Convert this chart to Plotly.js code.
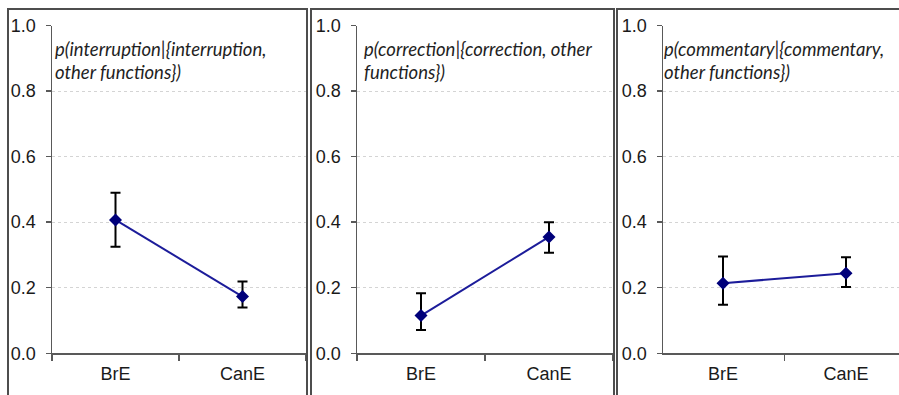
<!DOCTYPE html>
<html>
<head>
<meta charset="utf-8">
<script src="https://cdn.plot.ly/plotly-3.0.1.min.js"></script>
<style>html,body{margin:0;padding:0;background:#fff;}#chart{width:899px;height:395px;}</style>
</head>
<body>
<div id="chart"></div>
<script>
// ---- data ----
var categories = ["BrE", "CanE"];

var interruptionMean  = [0.407, 0.173];
var interruptionUpper = [0.490, 0.219];
var interruptionLower = [0.325, 0.140];

var correctionMean  = [0.115, 0.355];
var correctionUpper = [0.183, 0.400];
var correctionLower = [0.071, 0.307];

var commentaryMean  = [0.214, 0.244];
var commentaryUpper = [0.295, 0.293];
var commentaryLower = [0.148, 0.202];

var yTickVals = [0, 0.2, 0.4, 0.6, 0.8, 1.0];
var yTickText = ["0.0", "0.2", "0.4", "0.6", "0.8", "1.0"];

var panelTitles = [
  ["p(interruption|{interruption,", "other functions})"],
  ["p(correction|{correction, other", "functions})"],
  ["p(commentary|{commentary,", "other functions})"]
];

// ---- helpers ----
var W = 899, H = 395;
function px(x) { return x / W; }
function py(y) { return (H - y) / H; }

function diff(a, b) { return a.map(function (v, i) { return v - b[i]; }); }

function makeTrace(mean, upper, lower, n) {
  return {
    type: "scatter",
    mode: "lines+markers",
    x: categories,
    y: mean,
    xaxis: "x" + (n === 1 ? "" : n),
    yaxis: "y" + (n === 1 ? "" : n),
    line: { color: "#1c1c9a", width: 2 },
    marker: { symbol: "diamond", size: 10, color: "#00007a" },
    error_y: {
      type: "data",
      symmetric: false,
      array: diff(upper, mean),
      arrayminus: diff(mean, lower),
      color: "#000000",
      thickness: 2,
      width: 5
    },
    showlegend: false,
    hoverinfo: "skip"
  };
}

var data = [
  makeTrace(interruptionMean, interruptionUpper, interruptionLower, 1),
  makeTrace(correctionMean, correctionUpper, correctionLower, 2),
  makeTrace(commentaryMean, commentaryUpper, commentaryLower, 3)
];

var tickFont = { family: "Liberation Sans, Arial, sans-serif", size: 18, color: "#1a1a1a" };
var yDomain = [py(353.3), py(25.5)];

function xAxis(domain, range, anchor) {
  return {
    domain: domain,
    anchor: anchor,
    type: "category",
    range: range,
    tickson: "boundaries",
    ticks: "outside",
    ticklen: 6,
    tickwidth: 1.5,
    tickcolor: "#595959",
    showline: true,
    linecolor: "#595959",
    linewidth: 1.5,
    showgrid: false,
    zeroline: false,
    tickfont: tickFont,
    ticklabelstandoff: 4,
    fixedrange: true
  };
}
function yAxis(anchor) {
  return {
    domain: yDomain,
    anchor: anchor,
    range: [0, 1],
    tickvals: yTickVals,
    ticktext: yTickText,
    ticks: "outside",
    ticklen: 5,
    tickwidth: 1.5,
    tickcolor: "#595959",
    showline: true,
    linecolor: "#595959",
    linewidth: 1.5,
    showgrid: true,
    gridcolor: "#d4d4d4",
    griddash: "dot",
    gridwidth: 1,
    zeroline: false,
    tickfont: tickFont,
    ticklabelstandoff: 6,
    fixedrange: true
  };
}

var layout = {
  width: W,
  height: H,
  margin: { l: 0, r: 0, t: 0, b: 0, pad: 0 },
  paper_bgcolor: "#ffffff",
  plot_bgcolor: "#ffffff",
  xaxis: xAxis([px(52), px(306)], [-0.5, 1.5], "y"),
  yaxis: yAxis("x"),
  xaxis2: xAxis([px(357), px(613)], [-0.5, 1.5], "y2"),
  yaxis2: yAxis("x2"),
  xaxis3: xAxis([px(663), 1], [-0.488, 1.431], "y3"),
  yaxis3: yAxis("x3"),
  shapes: [
    { type: "rect", xref: "paper", yref: "paper", x0: px(8), x1: px(307), y0: -0.2, y1: py(9),
      line: { color: "#4d4d4d", width: 2 }, fillcolor: "rgba(0,0,0,0)" },
    { type: "rect", xref: "paper", yref: "paper", x0: px(311), x1: px(614), y0: -0.2, y1: py(9),
      line: { color: "#4d4d4d", width: 2 }, fillcolor: "rgba(0,0,0,0)" },
    { type: "rect", xref: "paper", yref: "paper", x0: px(617), x1: 1.2, y0: -0.2, y1: py(9),
      line: { color: "#4d4d4d", width: 2 }, fillcolor: "rgba(0,0,0,0)" }
  ],
  annotations: []
};

var titleX = [px(54), px(363), px(663)];
var lineY = [py(49), py(72)];
var titleFont = { family: "Lato, Carlito, sans-serif", size: 18.5, color: "#1f1f1f", style: "italic" };
panelTitles.forEach(function (lines, i) {
  lines.forEach(function (t, j) {
    layout.annotations.push({
      xref: "paper", yref: "paper",
      x: titleX[i], y: lineY[j],
      xanchor: "left", yanchor: "middle",
      text: "<i>" + t + "</i>",
      showarrow: false,
      font: titleFont,
      borderpad: 0
    });
  });
});

Plotly.newPlot("chart", data, layout, { displayModeBar: false, staticPlot: true });
</script>
</body>
</html>
